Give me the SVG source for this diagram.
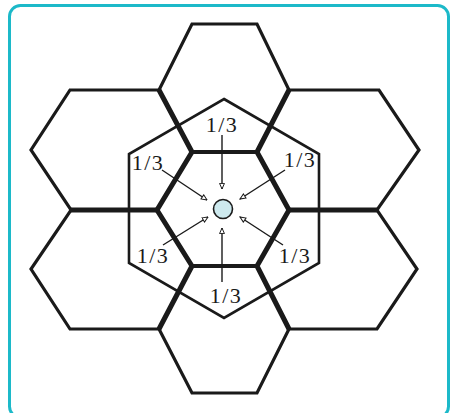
<svg xmlns="http://www.w3.org/2000/svg" width="451" height="413" viewBox="0 0 451 413">
<style>
.hex{fill:none;stroke:#1a1a1a;stroke-width:3.2;stroke-linejoin:miter}
.thick{fill:none;stroke:#1a1a1a;stroke-width:5;stroke-linecap:butt;stroke-linejoin:miter}
.big{fill:none;stroke:#1a1a1a;stroke-width:2.6}
.arr{stroke:#1a1a1a;stroke-width:1.4;fill:none;marker-end:url(#head)}
.lbl{font-family:"Liberation Serif","Times New Roman",serif;font-size:22px;fill:#1a1a1a;text-anchor:middle;letter-spacing:1.5px}
</style>
<defs>
<marker id="head" viewBox="0 0 10 10" refX="9" refY="5" markerWidth="7" markerHeight="7" markerUnits="userSpaceOnUse" orient="auto">
<path d="M1,1.5 L9,5 L1,8.5 Z" fill="#fff" stroke="#1a1a1a" stroke-width="1.4"/>
</marker>
</defs>
<rect x="0" y="0" width="451" height="413" fill="#fff"/>
<rect x="9.5" y="5.5" width="439" height="412" rx="11" fill="#fff" stroke="#1cb9c9" stroke-width="3"/>
<g id="hex-top"><polygon class="hex" points="192,24 257,24 289,90 257,152 192,152 159,90"/></g>
<g id="hex-upper-left"><polygon class="hex" points="70,90 159,90 192,152 157,210 71,210 31,150"/></g>
<g id="hex-upper-right"><polygon class="hex" points="257,152 289,90 379,90 419,150 377,210 289,210"/></g>
<g id="hex-lower-left"><polygon class="hex" points="71,210 157,210 192,266 159,329 70,329 31,269"/></g>
<g id="hex-lower-right"><polygon class="hex" points="289,210 377,210 417,269 377,329 289,329 257,266"/></g>
<g id="hex-bottom"><polygon class="hex" points="192,266 257,266 289,329 257,393 192,393 159,329"/></g>
<g id="hex-center"><polygon class="hex" points="192,152 257,152 289,210 257,266 192,266 157,210"/></g>
<g id="big-hex"><polygon class="big" points="224,99 319,154 319,263 224,318 129,263 129,154"/></g>
<g id="shared-edges">
<path class="thick" d="M159,90 L192,152 L157,210 L192,266 L159,329"/>
<path class="thick" d="M289,90 L257,152 L289,210 L257,266 L289,329"/>
<path class="thick" d="M71,210 L157,210 M289,210 L377,210"/>
<path class="thick" d="M192,152 L257,152 M192,266 L257,266" style="stroke-width:4"/>
</g>
<g id="cell"><circle cx="223" cy="209" r="9.5" fill="#cde9ee" stroke="#1a1a1a" stroke-width="1.6"/></g>
<g id="connectors">
<line class="arr" x1="222" y1="135" x2="222" y2="189"/>
<line class="arr" x1="162" y1="170" x2="207" y2="200"/>
<line class="arr" x1="285" y1="170" x2="240" y2="199"/>
<line class="arr" x1="163" y1="245" x2="208" y2="217"/>
<line class="arr" x1="283" y1="245" x2="240" y2="217"/>
<line class="arr" x1="222" y1="282" x2="222" y2="228"/>
</g>
<g id="labels">
<text class="lbl" x="222" y="132">1/3</text>
<text class="lbl" x="148" y="170">1/3</text>
<text class="lbl" x="300" y="167">1/3</text>
<text class="lbl" x="153" y="263">1/3</text>
<text class="lbl" x="295" y="263">1/3</text>
<text class="lbl" x="226" y="303">1/3</text>
</g>
</svg>
